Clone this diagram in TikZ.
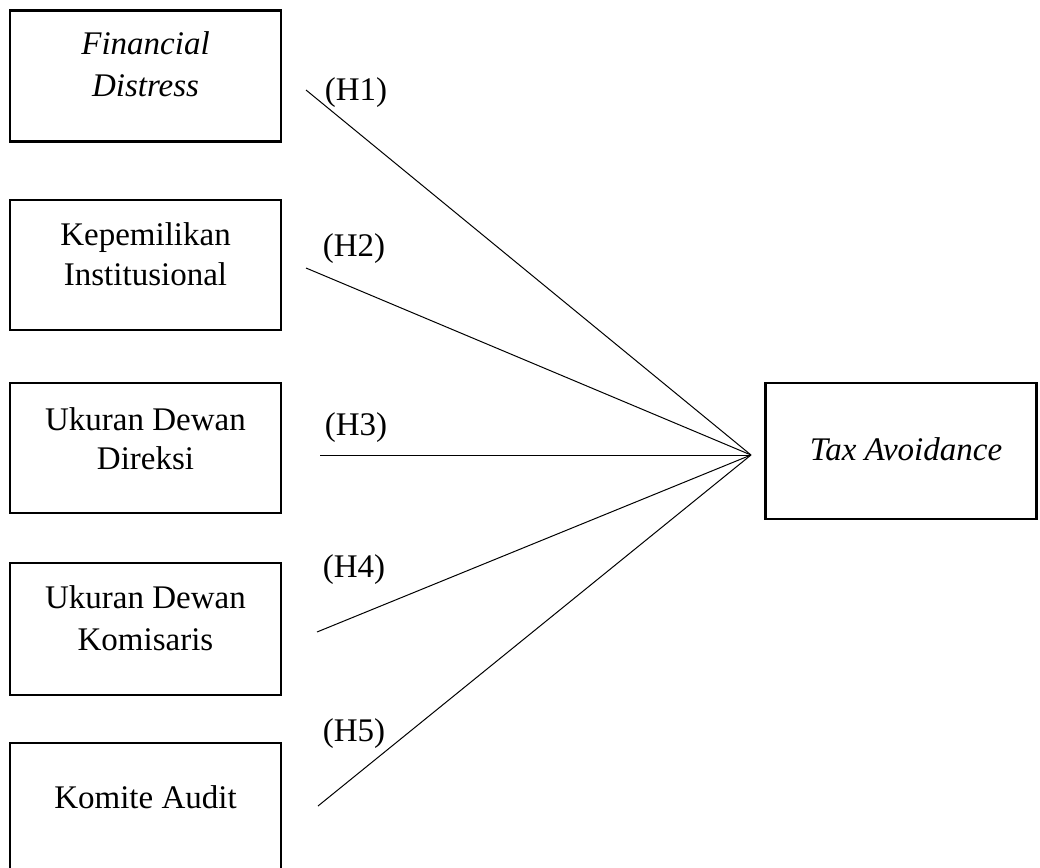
\documentclass[tikz,border=0pt]{standalone}
\usepackage{fontspec}
\setmainfont{Liberation Serif}
\begin{document}
\begin{tikzpicture}[x=1pt,y=-1pt,
  varbox/.style={draw=black,line width=2.5pt,minimum width=271pt,minimum height=130pt,inner sep=0pt},
  lbl/.style={font=\fontsize{33}{40}\selectfont,inner sep=0pt,anchor=base},
  path/.style={line width=1pt}]
\useasboundingbox (0,0) rectangle (1040,867);
\node[varbox,minimum height=131pt] (b1) at (145.5,76) {};
\node[varbox] (b2) at (145.5,265) {};
\node[varbox] (b3) at (145.5,448) {};
\node[varbox,minimum height=132pt] (b4) at (145.5,629) {};
\node[varbox,minimum height=140pt] (b5) at (145.5,813) {};
\node[varbox,minimum height=136pt] (bt) at (901,451) {};
\node[lbl] (t1a) at (145.5,55) {\itshape Financial};
\node[lbl] (t1b) at (145.5,96) {\itshape Distress};
\node[lbl] (t2a) at (145.5,245) {Kepemilikan};
\node[lbl] (t2b) at (145.5,285) {Institusional};
\node[lbl] (t3a) at (145.5,430) {Ukuran Dewan};
\node[lbl] (t3b) at (145.5,469) {Direksi};
\node[lbl] (t4a) at (145.5,608) {Ukuran Dewan};
\node[lbl] (t4b) at (145.5,650) {Komisaris};
\node[lbl] (t5) at (145.5,808) {Komite Audit};
\node[lbl] (tt) at (906,460) {\itshape Tax Avoidance};
\coordinate (hub) at (751,455);
\coordinate (s1) at (306,90);
\coordinate (s2) at (306,268);
\coordinate (s3) at (320,455);
\coordinate (s4) at (317,632);
\coordinate (s5) at (318,806);
\draw[path] (s1) -- (hub);
\draw[path] (s2) -- (hub);
\draw[path] (s3) -- (hub);
\draw[path] (s4) -- (hub);
\draw[path] (s5) -- (hub);
\node[lbl] (h1) at (356,100) {(H1)};
\node[lbl] (h2) at (354,256) {(H2)};
\node[lbl] (h3) at (356,435) {(H3)};
\node[lbl] (h4) at (354,577) {(H4)};
\node[lbl] (h5) at (354,741) {(H5)};
\end{tikzpicture}
\end{document}
